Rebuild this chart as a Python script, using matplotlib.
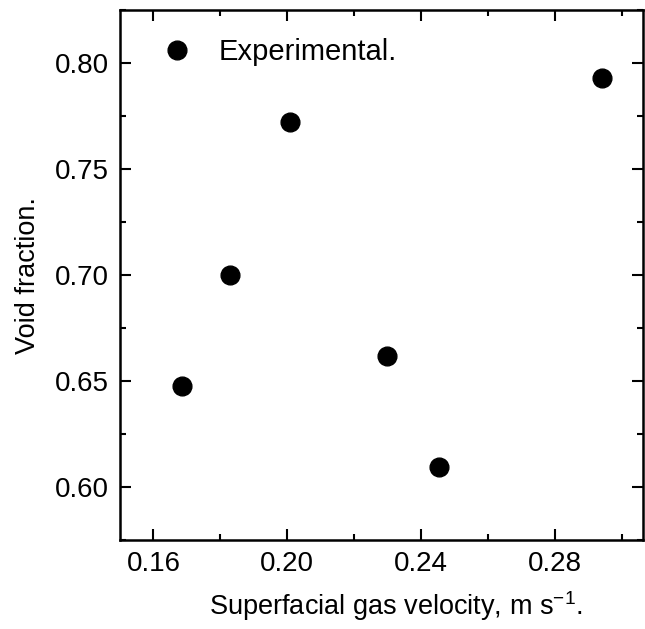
from matplotlib import pyplot as plt
from matplotlib.ticker import MultipleLocator

# Superficial gas velocity (m/s) vs void fraction
velocity = [0.1684, 0.1830, 0.2007, 0.2298, 0.2454, 0.2940]
void_frac = [0.6476, 0.7002, 0.7722, 0.6618, 0.6093, 0.7931]

plt.rcParams['font.family'] = ['Liberation Sans', 'DejaVu Sans']

fig = plt.figure(figsize=(6.45, 6.29), dpi=100)
ax = fig.add_axes([0.186, 0.1415, 0.811, 0.8425])

ax.plot(velocity, void_frac, 'o', ms=13.5, color='black', label='Experimental.')

ax.set_xlim(0.15, 0.3063)
ax.set_ylim(0.575, 0.825)
ax.xaxis.set_major_locator(MultipleLocator(0.04))
ax.xaxis.set_minor_locator(MultipleLocator(0.02))
ax.yaxis.set_major_locator(MultipleLocator(0.05))
ax.yaxis.set_minor_locator(MultipleLocator(0.025))
ax.xaxis.set_major_formatter(plt.FormatStrFormatter('%.2f'))
ax.yaxis.set_major_formatter(plt.FormatStrFormatter('%.2f'))

ax.tick_params(which='both', direction='in', top=True, right=True, width=1.5, labelsize=20)
ax.tick_params(which='major', length=8, pad=8)
ax.tick_params(which='minor', length=4)
for s in ax.spines.values():
    s.set_linewidth(1.8)

ax.set_xlabel(r'Superfacial gas velocity, m s$^{\mathregular{-1}}$.', fontsize=19.5, labelpad=9)
ax.xaxis.label.set_x(0.527)
ax.set_ylabel('Void fraction.', fontsize=19.5, labelpad=10)

ax.legend(loc='upper left', frameon=False, fontsize=21, handletextpad=0.4,
          borderaxespad=0.3, bbox_to_anchor=(0.015, 0.985))

plt.savefig('out.png')
